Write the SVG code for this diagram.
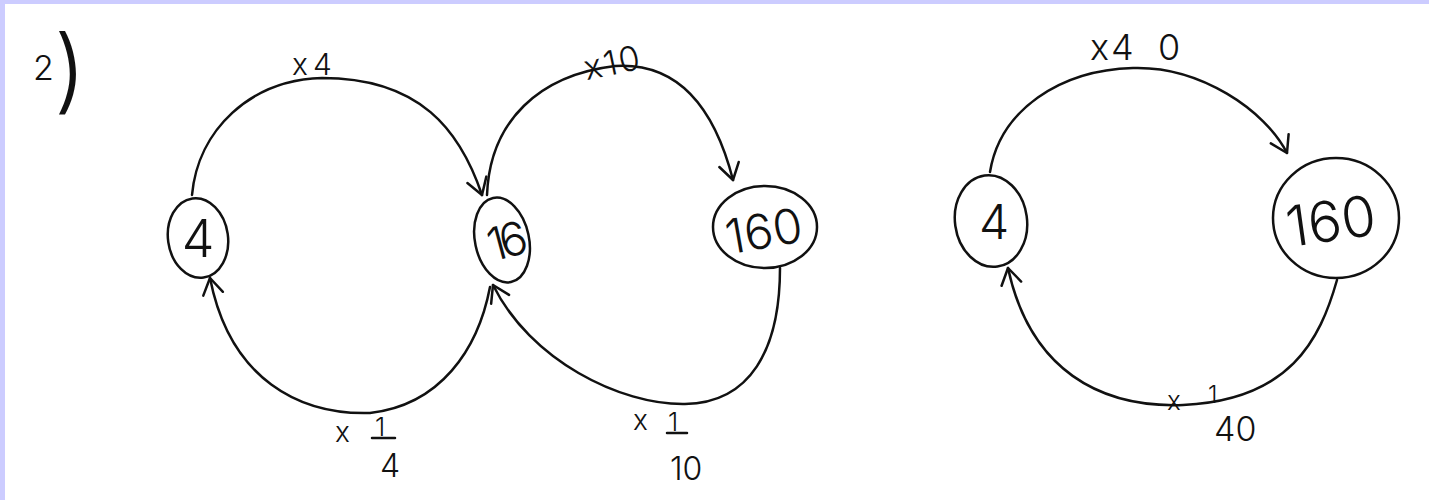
<svg xmlns="http://www.w3.org/2000/svg" width="1429" height="500" viewBox="0 0 1429 500">
  <style>
    .ln { fill: none; stroke: #111; stroke-width: 2.5; stroke-linecap: round; stroke-linejoin: round; }
    .tx { font-family: Inter, "Open Sans", "Liberation Sans", sans-serif; font-weight: 300; fill: #111; }
  </style>
  <defs>
    <marker id="arr" markerUnits="userSpaceOnUse" markerWidth="24" markerHeight="24" viewBox="0 0 24 24" refX="20" refY="12" orient="auto">
      <path d="M4,2 L20,12 L4,22" fill="none" stroke="#111" stroke-width="2.5" stroke-linecap="round" stroke-linejoin="round"/>
    </marker>
  </defs>
  <rect x="0" y="0" width="1429" height="500" fill="#ffffff"/>
  <rect x="0" y="0" width="1429" height="4" fill="#ccccff"/>
  <rect x="0" y="0" width="5" height="500" fill="#ccccff"/>

  <g id="title">
    <text class="tx" x="33" y="80" font-size="34">2</text>
    <text class="tx" x="54" y="102" font-size="92">)</text>
  </g>

  <g id="connectors">
    <g id="e-x4">
      <path class="ln" d="M192,195 C198,130 250,80 322,78 C420,78 460,130 482,195" marker-end="url(#arr)"/>
      <text class="tx" x="292" y="75" font-size="30" letter-spacing="5">x4</text>
    </g>
    <g id="e-x10">
      <path class="ln" d="M487,195 C490,120 540,75 615,66 C680,62 715,110 733,180" marker-end="url(#arr)"/>
      <text class="tx" x="583" y="74" font-size="34" letter-spacing="2" transform="rotate(-12 615 60)">x10</text>
    </g>
    <g id="e-x1-4">
      <path class="ln" d="M490,287 C478,350 440,405 370,413 C300,415 230,380 210,278" marker-end="url(#arr)"/>
      <text class="tx" x="335" y="442" font-size="28">x</text>
      <text class="tx" x="375" y="436" font-size="26">1</text>
      <line class="ln" x1="372" y1="438" x2="395" y2="438"/>
      <text class="tx" x="380" y="477" font-size="32">4</text>
    </g>
    <g id="e-x1-10">
      <path class="ln" d="M780,268 C780,350 750,403 685,404 C620,405 530,360 493,285" marker-end="url(#arr)"/>
      <text class="tx" x="633" y="430" font-size="28">x</text>
      <text class="tx" x="668" y="431" font-size="26">1</text>
      <line class="ln" x1="667" y1="433" x2="687" y2="433"/>
      <text class="tx" x="670" y="480" font-size="32">10</text>
    </g>
    <g id="e-x40">
      <path class="ln" d="M990,172 C1000,110 1060,70 1133,68 C1200,66 1265,110 1287,153" marker-end="url(#arr)"/>
      <text class="tx" x="1090" y="60" font-size="36" letter-spacing="2">x4<tspan x="1158">0</tspan></text>
    </g>
    <g id="e-x1-40">
      <path class="ln" d="M1337,280 C1320,340 1290,400 1183,405 C1100,408 1030,370 1008,268" marker-end="url(#arr)"/>
      <text class="tx" x="1167" y="410" font-size="26">x</text>
      <text class="tx" x="1208" y="403" font-size="24">1</text>
      <text class="tx" x="1214" y="441" font-size="34">40</text>
    </g>
  </g>

  <g id="n-4a">
    <ellipse class="ln" cx="198" cy="238" rx="30" ry="40" transform="rotate(-8 198 238)"/>
    <text class="tx" x="198" y="257" font-size="52" text-anchor="middle">4</text>
  </g>
  <g id="n-16">
    <ellipse class="ln" cx="502" cy="240" rx="27" ry="43" transform="rotate(-12 502 240)"/>
    <text class="tx" x="504" y="258" font-size="46" text-anchor="middle" letter-spacing="-6" transform="rotate(-15 504 240)">16</text>
  </g>
  <g id="n-160a">
    <ellipse class="ln" cx="765" cy="227" rx="52" ry="41"/>
    <text class="tx" x="764" y="248" font-size="48" text-anchor="middle" transform="rotate(-10 764 232)">160</text>
  </g>
  <g id="n-4b">
    <ellipse class="ln" cx="991" cy="221" rx="36" ry="46" transform="rotate(-8 991 221)"/>
    <text class="tx" x="994" y="239" font-size="48" text-anchor="middle">4</text>
  </g>
  <g id="n-160b">
    <ellipse class="ln" cx="1336" cy="218" rx="63" ry="60"/>
    <text class="tx" x="1331" y="241" font-size="56" text-anchor="middle" transform="rotate(-8 1331 222)">160</text>
  </g>
</svg>
